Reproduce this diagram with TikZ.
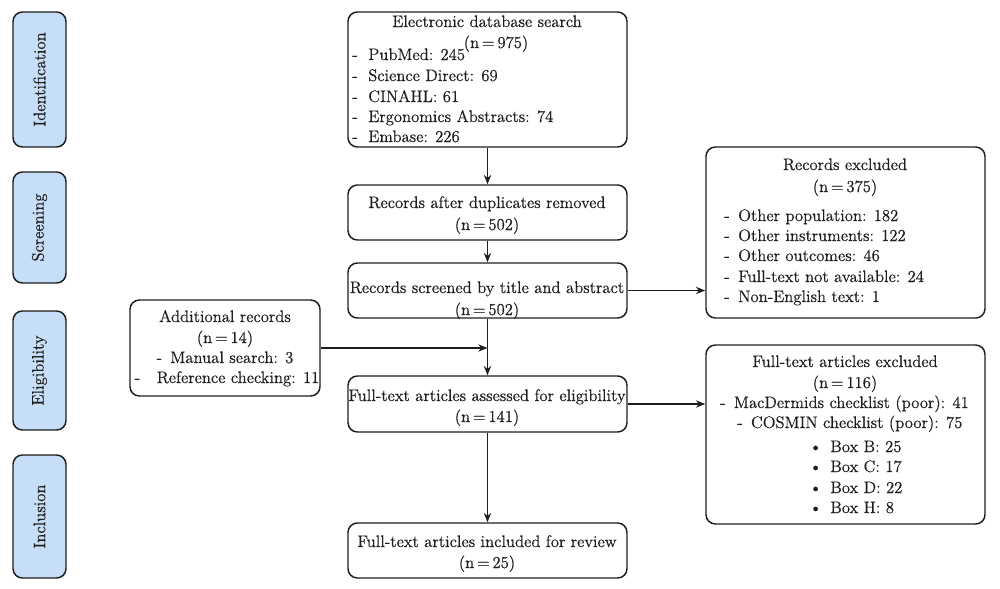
\documentclass[tikz,border=0pt]{standalone}
\usepackage{fontspec}
\setmainfont{Latin Modern Roman}[FakeBold=0.5]
\usetikzlibrary{fit,arrows.meta}
\definecolor{phasefill}{RGB}{198,222,248}
\definecolor{linecol}{RGB}{30,30,30}
\begin{document}
\begin{tikzpicture}[x=0.75pt,y=-0.75pt,
  box/.style={draw=linecol, line width=1.1pt, rounded corners=7pt, inner sep=0pt},
  phase/.style={box, fill=phasefill},
  txt/.style={inner sep=0pt, anchor=base, text=linecol, font=\fontsize{12.5}{15}\selectfont},
  txtl/.style={txt, anchor=base west},
  ptxt/.style={inner sep=0pt, rotate=90, text=linecol, font=\fontsize{12.5}{15}\selectfont},
  arr/.style={draw=linecol, line width=1pt, -{Stealth[length=7pt,width=5.5pt]}}]
\useasboundingbox (0,0) rectangle (1000,589);
% phase boxes
\node[phase, fit={(13,12)(66,147)}] (pid) {};
\node[phase, fit={(13,172)(66,283)}] (pscr) {};
\node[phase, fit={(13,311)(66,430)}] (pel) {};
\node[phase, fit={(13,455)(66,578)}] (pinc) {};
\node[ptxt] (tid) at (pid.center) {Identification};
\node[ptxt] (tscr) at (pscr.center) {Screening};
\node[ptxt] (tel) at (pel.center) {Eligibility};
\node[ptxt] (tinc) at (pinc.center) {Inclusion};
% main boxes
\node[box, fit={(348,12)(627,147)}] (eds) {};
\node[box, fit={(348,185)(627,240)}] (dup) {};
\node[box, fit={(348,263)(627,318)}] (scr) {};
\node[box, fit={(130,300)(320,396)}] (add) {};
\node[box, fit={(348,376)(627,432)}] (fta) {};
\node[box, fit={(348,523)(627,578)}] (inc) {};
\node[box, fit={(706,147)(985,318)}] (exc) {};
\node[box, fit={(706,345)(985,524)}] (fte) {};
% texts: electronic database search
\node[txt] (e1) at (487,27) {Electronic database search};
\node[txt] (e2) at (496,48) {(n\,=\,975)};
\foreach \y/\t [count=\i] in {60/PubMed: 245, 81/Science Direct: 69, 102/CINAHL: 61, 122/Ergonomics Abstracts: 74, 142/Embase: 226}{
  \node[txtl] (ed\i) at (352,\y) {-};
  \node[txtl] (et\i) at (368,\y) {\t};
}
\node[txt] (d1) at (487,208) {Records after duplicates removed};
\node[txt] (d2) at (487,230) {(n\,=\,502)};
\node[txt] (s1) at (487,293) {Records screened by title and abstract};
\node[txt] (s2) at (487,315) {(n\,=\,502)};
\node[txt] (a1) at (225,322) {Additional records};
\node[txt] (a2) at (225,343) {(n\,=\,14)};
\node[txt] (a3) at (225,363) {-\enspace Manual search: 3};
\node[txt] (a4) at (227,383) {-\enspace\enspace Reference checking: 11};
\node[txt] (f1) at (487,401) {Full-text articles assessed for eligibility};
\node[txt] (f2) at (487,422) {(n\,=\,141)};
\node[txt] (i1) at (487,547) {Full-text articles included for review};
\node[txt] (i2) at (487,568) {(n\,=\,25)};
% records excluded
\node[txt] (x1) at (845,170) {Records excluded};
\node[txt] (x2) at (845,192) {(n\,=\,375)};
\foreach \y/\t [count=\i] in {221/Other population: 182, 241/Other instruments: 122, 261/Other outcomes: 46, 282/Full-text not available: 24, 302/Non-English text: 1}{
  \node[txtl] (xd\i) at (724,\y) {-};
  \node[txtl] (xt\i) at (738,\y) {\t};
}
% full-text excluded
\node[txt] (g1) at (845,367) {Full-text articles excluded};
\node[txt] (g2) at (845,388) {(n\,=\,116)};
\node[txtl] (g3) at (720,408) {-\enspace MacDermids checklist (poor): 41};
\node[txtl] (g4) at (737,428) {-\enspace COSMIN checklist (poor): 75};
\foreach \y/\t [count=\i] in {452/Box B: 25, 472/Box C: 17, 493/Box D: 22, 513/Box H: 8}{
  \node[txtl] (gb\i) at (809,\y) {\textbullet\enspace\t};
}
% connectors
\draw[arr] (eds.south) -- (dup.north);
\draw[arr] (dup.south) -- (scr.north);
\draw[arr] (scr.south) -- (fta.north);
\draw[arr] (fta.south) -- (inc.north);
\draw[arr] (scr.east) -- (scr.east -| exc.west);
\draw[arr] (fta.east) -- (fta.east -| fte.west);
\draw[arr] (add.east) -- (add.east -| scr.south);
\end{tikzpicture}
\end{document}
